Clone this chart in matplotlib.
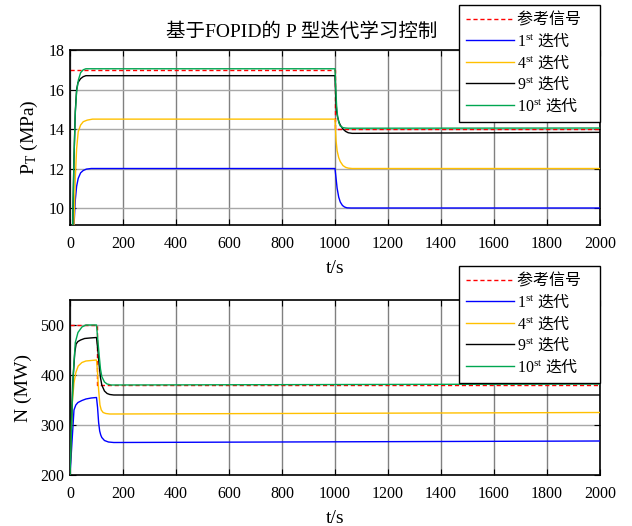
import matplotlib
matplotlib.use('Agg')
import matplotlib.pyplot as plt

plt.rcParams['font.family'] = ['Liberation Serif', 'Noto Sans CJK SC']
plt.rcParams['mathtext.fontset'] = 'custom'
plt.rcParams['mathtext.rm'] = 'Liberation Serif'
plt.rcParams['mathtext.it'] = 'Liberation Serif:italic'
plt.rcParams['mathtext.sf'] = 'Noto Sans CJK SC'
plt.rcParams['axes.unicode_minus'] = False

# ---- top panel: main steam pressure P_T (MPa) ----
ref_t_top = [0, 1000, 1000, 2000]
ref_p_top = [17, 17, 14, 14]

it1_t_top = [0, 15, 20, 25, 31, 40, 50, 62, 80, 1000, 1004, 1008, 1014, 1020, 1028, 1036, 1045, 1060, 2000]
it1_p_top = [7.0, 9.1, 10.4, 11.1, 11.5, 11.78, 11.9, 11.97, 12.0, 12.0, 11.5, 11.0, 10.55, 10.3, 10.13, 10.05, 10.01, 10.0, 10.0]

it4_t_top = [0, 15, 20, 25, 31, 40, 50, 65, 85, 1000, 1004, 1008, 1014, 1020, 1030, 1040, 1050, 1065, 2000]
it4_p_top = [7.0, 9.14, 11.5, 13.0, 13.86, 14.2, 14.37, 14.45, 14.5, 14.5, 13.4, 12.9, 12.55, 12.35, 12.15, 12.06, 12.02, 12.0, 12.0]

it9_t_top = [0, 10, 15, 20, 25, 30, 40, 50, 60, 1000, 1003, 1006, 1010, 1015, 1020, 1030, 1040, 1050, 1065, 2000]
it9_p_top = [7.0, 9.14, 12.5, 14.9, 16.0, 16.35, 16.55, 16.65, 16.7, 16.7, 15.6, 14.9, 14.6, 14.35, 14.2, 14.0, 13.88, 13.81, 13.78, 13.83]

it10_t_top = [0, 10, 15, 20, 25, 32, 40, 50, 60, 1000, 1003, 1006, 1010, 1015, 1020, 1030, 1040, 1050, 1060, 2000]
it10_p_top = [7.0, 9.14, 12.5, 14.8, 15.9, 16.5, 16.85, 17.0, 17.05, 17.05, 16.0, 15.2, 14.6, 14.3, 14.15, 14.07, 14.05, 14.04, 14.04, 14.05]

# ---- bottom panel: unit power N (MW) ----
ref_t_bot = [0, 100, 100, 2000]
ref_n_bot = [500, 500, 380, 380]

it1_t_bot = [0, 8, 15, 22, 30, 45, 60, 80, 100, 104, 108, 112, 116, 120, 130, 145, 165, 2000]
it1_n_bot = [200, 270, 330, 340, 345, 349, 352, 354, 355, 335, 305, 288, 280, 275, 269, 266, 265, 268]

it4_t_bot = [0, 8, 15, 22, 31, 45, 60, 80, 100, 104, 108, 113, 118, 125, 135, 150, 165, 2000]
it4_n_bot = [200, 340, 384, 405, 418, 425, 428, 429, 430, 405, 370, 340, 330, 325, 323, 322, 322, 325]

it9_t_bot = [0, 10, 18, 23, 30, 40, 55, 75, 100, 105, 110, 115, 120, 130, 140, 150, 165, 2000]
it9_n_bot = [200, 380, 445, 462, 467, 470, 473, 474, 475, 450, 420, 395, 380, 368, 363, 361, 360, 360]

it10_t_bot = [0, 12, 20, 30, 45, 60, 100, 105, 110, 115, 120, 130, 140, 155, 2000]
it10_n_bot = [200, 400, 465, 485, 496, 500, 500, 470, 440, 412, 397, 386, 382, 380, 382]

# trailing spaces widen the legend box like the original
labels = ['参考信号   ', r'1$^{\mathrm{st}}$ $\mathsf{迭代}$', r'4$^{\mathrm{st}}$ $\mathsf{迭代}$',
          r'9$^{\mathrm{st}}$ $\mathsf{迭代}$', r'10$^{\mathrm{st}}$ $\mathsf{迭代}$']
colors = ['#FF0000', '#0000FF', '#FFC000', '#000000', '#00A651']
x_ticks = list(range(0, 2001, 200))

W, H = 632, 526
fig = plt.figure(figsize=(W / 100, H / 100), dpi=100)
ax1 = fig.add_axes([70 / W, 1 - 225 / H, 530 / W, 175 / H])
ax2 = fig.add_axes([70 / W, 1 - 475 / H, 530 / W, 175 / H])

top_series = [(ref_t_top, ref_p_top), (it1_t_top, it1_p_top), (it4_t_top, it4_p_top),
              (it9_t_top, it9_p_top), (it10_t_top, it10_p_top)]
bot_series = [(ref_t_bot, ref_n_bot), (it1_t_bot, it1_n_bot), (it4_t_bot, it4_n_bot),
              (it9_t_bot, it9_n_bot), (it10_t_bot, it10_n_bot)]


def style_axes(ax, series):
    handles = []
    for i, (t, v) in enumerate(series):
        if i == 0:
            h, = ax.plot(t, v, color=colors[i], lw=1.0, linestyle=(0, (3, 2)), zorder=2)
        else:
            h, = ax.plot(t, v, color=colors[i], lw=1.0, zorder=3)
        handles.append(h)
    ax.set_xlim(0, 2000)
    ax.set_xticks(x_ticks)
    ax.grid(axis='x', color='#808080', lw=1.0)
    ax.grid(axis='y', color='#a8a8a8', lw=1.0)
    ax.set_axisbelow(True)
    ax.tick_params(direction='in', top=True, right=True, labelsize=11.5, length=4)
    ax.tick_params(axis='x', pad=8)
    ax.tick_params(axis='y', pad=4)
    for s in ax.spines.values():
        s.set_linewidth(1.2)
    ax.set_xlabel('t/s', fontsize=14, labelpad=6)
    return handles


h1 = style_axes(ax1, top_series)
ax1.set_ylim(9.14, 18)
ax1.set_yticks([10, 12, 14, 16, 18])
ax1.set_ylabel(r'P$_{\mathrm{T}}$ (MPa)', fontsize=14, labelpad=6)

h2 = style_axes(ax2, bot_series)
ax2.set_ylim(200, 550)
ax2.set_yticks([200, 300, 400, 500])
ax2.set_ylabel('N (MW)', fontsize=14, labelpad=6)

fig.text(302 / W, 1 - 32 / H, '基于FOPID的 P 型迭代学习控制', fontsize=14,
         ha='center', va='center')

for handles, top_px in [(h1, 5), (h2, 266)]:
    leg = fig.legend(handles, labels, loc='upper right',
                     bbox_to_anchor=(600 / W, 1 - top_px / H), borderaxespad=0,
                     fontsize=11.5, frameon=True, fancybox=False, framealpha=1,
                     edgecolor='black', handlelength=3.0, handletextpad=0.2,
                     labelspacing=0.19, borderpad=0.45)
    leg.get_frame().set_linewidth(1.0)

fig.savefig('out.png', dpi=100)
